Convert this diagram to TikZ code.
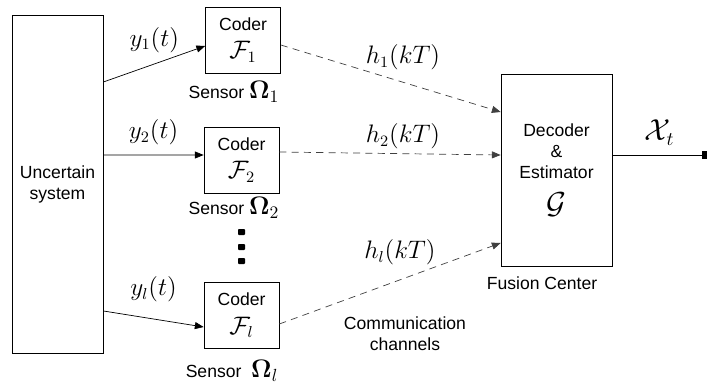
\documentclass[tikz,border=0pt]{standalone}
\usepackage{amsmath,amssymb}
\usepackage{fontspec}
\setmainfont{Liberation Sans}
\usetikzlibrary{arrows.meta}

\tikzset{
    blockbox/.style={draw,thin,align=center,inner sep=0pt},
    coderbox/.style={blockbox,minimum width=1.5cm,minimum height=1.32cm},
    sig/.style={-{Triangle[length=5pt,width=4pt]},thin},
    chan/.style={-{Triangle[length=5pt,width=4pt]},thin,black!75,dash pattern=on 4pt off 3pt}
}
\newcommand{\biglab}{\fontsize{13.5}{16}\selectfont}

\begin{document}
\begin{tikzpicture}[x=0.02cm,y=-0.02cm]
    \useasboundingbox (0,0) rectangle (707,385);
    % Draw blocks
    \node[blockbox,minimum width=1.82cm,minimum height=6.76cm] (sys) at (57.5,184) {Uncertain\\system}; % plant
    \node[coderbox] (cod1) at (243,40) {Coder\\[4pt]{\biglab$\mathcal{F}_1$}};
    \node[coderbox] (cod2) at (241.5,160) {Coder\\[4pt]{\biglab$\mathcal{F}_2$}};
    \node[coderbox] (codl) at (241.5,315.5) {Coder\\[4pt]{\biglab$\mathcal{F}_l$}};
    \node[blockbox,minimum width=2.22cm,minimum height=3.84cm] (fc) at (556.5,170) {Decoder\\\&\\Estimator\\[8pt]{\LARGE$\mathcal{G}$}}; % fusion center

    % Sensor names
    \node (sen1) at (234,92) {Sensor {\Large$\boldsymbol{\Omega}_1$}};
    \node (sen2) at (234,208) {Sensor {\Large$\boldsymbol{\Omega}_2$}};
    \node (senl) at (232,371) {Sensor~~{\Large$\boldsymbol{\Omega}_l$}};
    \node (fcname) at (542,283) {Fusion Center};
    \node[align=center] (comm) at (405,334) {Communication\\channels};

    % Dots between sensors
    \foreach \yy in {232,247,261}
        \fill[rounded corners=0.5pt] (241.5,\yy) ++(-3.5,-3) rectangle ++(7,6);

    % Draw measurement lines
    \draw[sig] ([yshift=2.04cm]sys.east) -- ([yshift=-0.12cm]cod1.west) node[midway,above=3pt] {\biglab$y_1(t)$};
    \draw[sig] ([yshift=0.58cm]sys.east) -- ([yshift=0.1cm]cod2.west) node[midway,above=2pt] {\biglab$y_2(t)$};
    \draw[sig] ([yshift=-2.54cm]sys.east) -- ([yshift=-0.23cm]codl.west) node[midway,above=6pt] {\biglab$y_l(t)$};

    % Draw channel lines
    \draw[chan] ([yshift=-0.1cm]cod1.east) -- ([yshift=1.16cm]fc.west);
    \draw[chan] ([yshift=0.16cm]cod2.east) -- ([yshift=0.3cm]fc.west);
    \draw[chan] ([yshift=-0.17cm]codl.east) -- ([yshift=-1.46cm]fc.west);
    \node (h1) at (403,57) {\biglab$h_1(kT)$};
    \node (h2) at (403,136) {\biglab$h_2(kT)$};
    \node (hl) at (400,252) {\biglab$h_l(kT)$};

    % Output
    \coordinate (out) at (707,155);
    \draw[-{Square[length=3pt,width=4pt]},thin] (fc.east |- out) -- (out) node[pos=0.5,above=2pt] {\fontsize{16}{18}\selectfont$\mathcal{X}_t$};
\end{tikzpicture}
\end{document}
